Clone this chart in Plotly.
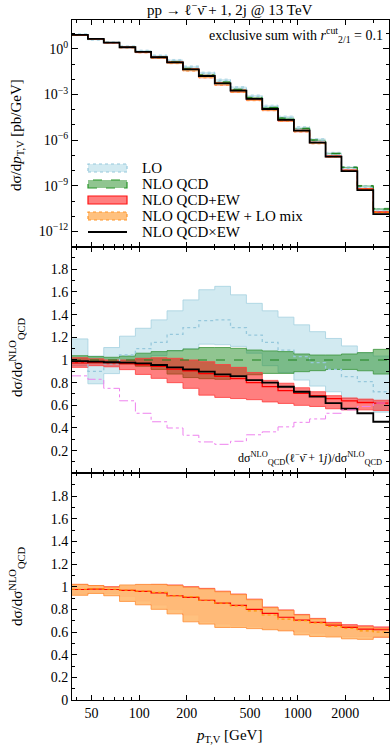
import numpy as np
import plotly.graph_objects as go
from plotly.subplots import make_subplots

# bin edges of pT,V [GeV]
edges = [37.7, 47.5, 59.8, 75.2, 94.7, 119, 150, 189, 238, 300, 377,
         475, 598, 752, 947, 1190, 1500, 1890, 2380, 3000, 3770]

# NLO QCD central value, dsigma/dpT [pb/GeV]
nlo_qcd = [8.4, 4.65, 2.62, 1.32, 0.65, 0.295, 0.141, 0.0499, 0.0185, 6.3e-3,
           2.12e-3, 6.24e-4, 1.40e-4, 2.8e-5, 5.93e-6, 1.02e-6, 1.34e-7, 1.64e-8,
           9.9e-10, 3.03e-11]

# ratios to NLO QCD
lo_c = [0.98, 0.90, 0.965, 1.044, 1.10, 1.156, 1.227, 1.286, 1.348, 1.354,
        1.286, 1.22, 1.156, 1.088, 1.03, 0.976, 0.917, 0.853, 0.81, 0.72]
lo_hi = [1.186, 1.035, 1.11, 1.21, 1.28, 1.354, 1.434, 1.53, 1.62, 1.65,
         1.575, 1.50, 1.434, 1.378, 1.31, 1.25, 1.19, 1.124, 1.065, 1.035]
lo_lo = [0.95, 0.79, 0.88, 0.97, 1.0, 1.04, 1.08, 1.10, 1.14, 1.135,
         1.12, 1.06, 0.95, 0.89, 0.823, 0.77, 0.72, 0.66, 0.646, 0.54]

qcd_hi = [1.038, 1.03, 1.024, 1.035, 1.06, 1.074, 1.083, 1.097, 1.11, 1.11,
          1.103, 1.088, 1.08, 1.074, 1.053, 1.044, 1.044, 1.053, 1.065, 1.094]
qcd_lo = [0.975, 0.975, 0.975, 0.965, 0.945, 0.917, 0.876, 0.845, 0.835, 0.83,
          0.85, 0.87, 0.882, 0.882, 0.897, 0.906, 0.917, 0.917, 0.905, 0.876]

ew_c = [0.975, 0.978, 0.975, 0.968, 0.958, 0.945, 0.92, 0.905, 0.88, 0.855,
        0.835, 0.8, 0.765, 0.73, 0.705, 0.685, 0.66, 0.64, 0.625, 0.62]
ew_hi = [1.02, 1.01, 1.0, 1.0, 1.015, 1.02, 1.015, 1.0, 0.985, 0.96,
         0.935, 0.89, 0.82, 0.795, 0.755, 0.72, 0.685, 0.665, 0.655, 0.645]
ew_lo = [0.935, 0.95, 0.94, 0.915, 0.873, 0.838, 0.80, 0.75, 0.69, 0.67,
         0.66, 0.65, 0.63, 0.617, 0.60, 0.59, 0.57, 0.56, 0.56, 0.555]

mix_c = [0.977, 0.98, 0.977, 0.97, 0.96, 0.95, 0.918, 0.91, 0.88, 0.854,
         0.83, 0.787, 0.75, 0.714, 0.70, 0.68, 0.65, 0.633, 0.61, 0.60]
mix_hi = [1.02, 1.01, 0.995, 1.015, 1.02, 1.02, 1.01, 0.995, 0.98, 0.955,
          0.93, 0.885, 0.815, 0.79, 0.75, 0.715, 0.675, 0.65, 0.645, 0.63]
mix_lo = [0.924, 0.94, 0.92, 0.87, 0.84, 0.80, 0.76, 0.69, 0.67, 0.64,
          0.64, 0.63, 0.62, 0.61, 0.575, 0.56, 0.556, 0.54, 0.535, 0.555]

qcdxew = [0.99, 0.985, 0.98, 0.976, 0.97, 0.956, 0.935, 0.917, 0.897, 0.873,
          0.858, 0.823, 0.80, 0.764, 0.72, 0.676, 0.62, 0.57, 0.53, 0.455]

onej = [0.86, 0.83, 0.75, 0.64, 0.53, 0.455, 0.40, 0.336, 0.277, 0.256,
        0.283, 0.34, 0.366, 0.41, 0.45, 0.48, 0.53, 0.56, 0.59, 0.62]

FONT = "Liberation Serif"

LO_FILL, LO_LINE = "rgba(173,216,230,0.55)", "rgb(165,208,224)"
QCD_FILL, QCD_LINE = "rgba(34,139,34,0.5)", "rgb(60,150,60)"
EW_FILL, EW_LINE = "rgba(255,0,0,0.5)", "rgb(255,60,60)"
MIX_FILL, MIX_LINE = "rgba(255,190,120,0.95)", "rgb(255,140,50)"


def step(v):
    v = list(v)
    return v + [v[-1]]


fig = make_subplots(rows=3, cols=1, shared_xaxes=True, vertical_spacing=0)


def band(lo, hi, fill, line, dash, row, w=0.8):
    fig.add_trace(go.Scatter(x=edges, y=step(lo), mode="lines", line_shape="hv",
                             line=dict(color=line, width=w, dash=dash),
                             showlegend=False, hoverinfo="skip"), row=row, col=1)
    fig.add_trace(go.Scatter(x=edges, y=step(hi), mode="lines", line_shape="hv",
                             fill="tonexty", fillcolor=fill,
                             line=dict(color=line, width=w, dash=dash),
                             showlegend=False, hoverinfo="skip"), row=row, col=1)


def curve(v, color, width, dash, row):
    fig.add_trace(go.Scatter(x=edges, y=step(v), mode="lines", line_shape="hv",
                             line=dict(color=color, width=width, dash=dash),
                             showlegend=False, hoverinfo="skip"), row=row, col=1)


q = np.array(nlo_qcd)

# top panel: absolute distributions
band(q * np.array(lo_lo), q * np.array(lo_hi), LO_FILL, LO_LINE, "dot", 1)
band(q * np.array(qcd_lo), q * np.array(qcd_hi), QCD_FILL, QCD_LINE, "dash", 1)
band(q * np.array(ew_lo), q * np.array(ew_hi), EW_FILL, EW_LINE, "solid", 1)
band(q * np.array(mix_lo), q * np.array(mix_hi), MIX_FILL, MIX_LINE, "dot", 1)
curve(q * np.array(lo_c), "rgb(150,200,220)", 1, "dot", 1)
curve(q, "rgb(30,130,30)", 1, "dash", 1)
curve(q * np.array(ew_c), "red", 1, "solid", 1)
curve(q * np.array(mix_c), "rgb(255,140,0)", 1, "dot", 1)
curve(q * np.array(qcdxew), "black", 1.8, "solid", 1)

# middle panel: ratios
band(lo_lo, lo_hi, LO_FILL, LO_LINE, "solid", 2)
band(qcd_lo, qcd_hi, QCD_FILL, QCD_LINE, "solid", 2)
band(ew_lo, ew_hi, EW_FILL, EW_LINE, "solid", 2)
curve(lo_c, "rgb(150,200,220)", 1.3, "dot", 2)
curve([1.0] * len(nlo_qcd), "rgb(30,130,30)", 1.2, "dash", 2)
curve(ew_c, "red", 1.3, "solid", 2)
curve(qcdxew, "black", 1.8, "solid", 2)
curve(onej, "violet", 1, "dashdot", 2)

# bottom panel
band(ew_lo, ew_hi, EW_FILL, EW_LINE, "solid", 3)
band(mix_lo, mix_hi, MIX_FILL, MIX_LINE, "solid", 3)
curve(ew_c, "red", 1.2, "solid", 3)
curve(mix_c, "rgb(255,150,0)", 1.2, "dot", 3)

xr = [np.log10(edges[0]), np.log10(edges[-1])]
x_major = [50, 100, 200, 500, 1000, 2000]
x_minor = [40, 60, 70, 80, 90, 300, 400, 600, 700, 800, 900, 3000]
axis_common = dict(showline=True, linecolor="black", linewidth=1, mirror="allticks",
                   ticks="inside", tickcolor="black", showgrid=False, zeroline=False,
                   tickfont=dict(family=FONT, size=14, color="black"))
for r in (1, 2, 3):
    fig.update_xaxes(type="log", range=xr, tickvals=x_major,
                     ticktext=[str(v) for v in x_major], ticklen=5,
                     minor=dict(tickvals=x_minor, ticks="inside", ticklen=3, tickcolor="black"),
                     showticklabels=(r == 3), row=r, col=1, **axis_common)

y_major = [1e-12, 1e-9, 1e-6, 1e-3, 1]
fig.update_yaxes(type="log", range=[-13, 1.9], tickvals=y_major,
                 ticktext=["10<sup>−12</sup>", "10<sup>−9</sup>", "10<sup>−6</sup>",
                           "10<sup>−3</sup>", "10<sup>0</sup>"],
                 ticklen=6,
                 minor=dict(tickvals=[10.0 ** k for k in range(-13, 2)], ticks="inside",
                            ticklen=3, tickcolor="black"),
                 row=1, col=1, **axis_common)

mid_ticks = [0.2, 0.4, 0.6, 0.8, 1.0, 1.2, 1.4, 1.6, 1.8]
fig.update_yaxes(range=[0, 2], tickvals=mid_ticks,
                 ticktext=["0.2", "0.4", "0.6", "0.8", "1", "1.2", "1.4", "1.6", "1.8"],
                 ticklen=5, minor=dict(dtick=0.1, ticks="inside", ticklen=3, tickcolor="black"),
                 row=2, col=1, **axis_common)
bot_ticks = [0.0] + mid_ticks
fig.update_yaxes(range=[0, 2], tickvals=bot_ticks,
                 ticktext=["0", "0.2", "0.4", "0.6", "0.8", "1", "1.2", "1.4", "1.6", "1.8"],
                 ticklen=5, minor=dict(dtick=0.1, ticks="inside", ticklen=3, tickcolor="black"),
                 row=3, col=1, **axis_common)

W, H = 390, 745
L, R, T, B = 72, 1, 20, 45


def px(x, y):
    return (x - L) / (W - L - R), (H - B - y) / (H - T - B)


shapes = []
annotations = []
legend_items = [
    ("LO", LO_FILL, "rgb(150,200,220)", "dot"),
    ("NLO QCD", QCD_FILL, "rgb(40,150,40)", "dash"),
    ("NLO QCD+EW", EW_FILL, "rgb(255,20,20)", "solid"),
    ("NLO QCD+EW + LO mix", MIX_FILL, "rgb(255,150,40)", "dot"),
    ("NLO QCD×EW", None, "black", "solid"),
]
for i, (name, fill, line, dash) in enumerate(legend_items):
    yc = 168 + 16 * i
    x0, y0 = px(88, yc - 4)
    x1, y1 = px(127, yc + 4)
    if fill is None:
        xa, ya = px(88, yc)
        xb, _ = px(127, yc)
        shapes.append(dict(type="line", xref="paper", yref="paper", x0=xa, x1=xb,
                           y0=ya, y1=ya, line=dict(color="black", width=1.8)))
    else:
        shapes.append(dict(type="rect", xref="paper", yref="paper", x0=x0, x1=x1,
                           y0=y1, y1=y0, fillcolor=fill,
                           line=dict(color=line, width=1.2, dash=dash)))
    tx, ty = px(140, yc)
    annotations.append(dict(text=name, xref="paper", yref="paper", x=tx, y=ty,
                            xanchor="left", yanchor="middle", showarrow=False,
                            font=dict(family=FONT, size=15, color="black")))

tx, ty = px(230, 9)
annotations.append(dict(text="pp → ℓ<sup>−</sup>ν̄ + 1, 2j @ 13 TeV", xref="paper", yref="paper",
                        x=tx, y=ty, xanchor="center", yanchor="middle", showarrow=False,
                        font=dict(family=FONT, size=15, color="black")))
tx, ty = px(385, 35)
annotations.append(dict(text="exclusive sum with <i>r</i><sup>cut</sup><sub>2/1</sub> = 0.1",
                        xref="paper", yref="paper", x=tx, y=ty, xanchor="right", yanchor="middle",
                        showarrow=False, font=dict(family=FONT, size=14, color="black")))
tx, ty = px(384, 459)
annotations.append(dict(text="dσ<sup>NLO</sup><sub>QCD</sub>(ℓ<sup>−</sup>ν̄ + 1<i>j</i>)/dσ<sup>NLO</sup><sub>QCD</sub>",
                        xref="paper", yref="paper", x=tx, y=ty, xanchor="right", yanchor="middle",
                        showarrow=False, font=dict(family=FONT, size=12, color="black")))
tx, ty = px(229, 736)
annotations.append(dict(text="<i>p</i><sub>T,V</sub> [GeV]", xref="paper", yref="paper",
                        x=tx, y=ty, xanchor="center", yanchor="middle", showarrow=False,
                        font=dict(family=FONT, size=15, color="black")))
for yc, txt in [(135, "dσ/d<i>p</i><sub>T,V</sub> [pb/GeV]"),
                (357, "dσ/dσ<sup>NLO</sup><sub>QCD</sub>"),
                (586, "dσ/dσ<sup>NLO</sup><sub>QCD</sub>")]:
    tx, ty = px(17, yc)
    annotations.append(dict(text=txt, xref="paper", yref="paper", x=tx, y=ty,
                            xanchor="center", yanchor="middle", textangle=-90,
                            showarrow=False, font=dict(family=FONT, size=15, color="black")))

fig.update_layout(width=W, height=H, margin=dict(l=L, r=R, t=T, b=B),
                  plot_bgcolor="white", paper_bgcolor="white", showlegend=False,
                  shapes=shapes, annotations=annotations,
                  font=dict(family=FONT, size=14, color="black"))

fig.write_html("out.html", config={"displayModeBar": False},
               post_script="document.body.style.margin='0px';document.body.style.overflow='hidden';")
